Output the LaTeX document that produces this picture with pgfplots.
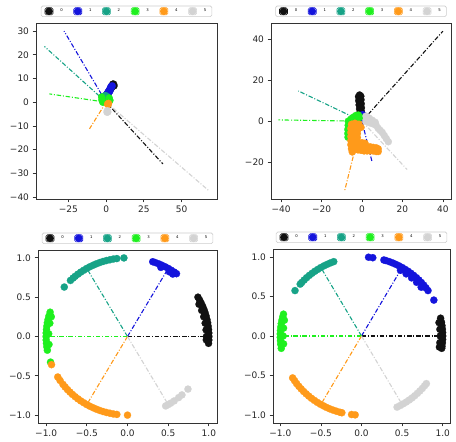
\documentclass[border=0pt]{standalone}
\usepackage{pgfplots}
\pgfplotsset{compat=1.18}
\usepackage{fontspec}
\setmainfont{DejaVu Sans}

\definecolor{c0}{HTML}{111111}
\definecolor{c1}{HTML}{1414DC}
\definecolor{c2}{HTML}{17A387}
\definecolor{c3}{HTML}{1EF01E}
\definecolor{c4}{HTML}{FF9A1A}
\definecolor{c5}{HTML}{D3D3D3}

\pgfplotsset{
  panel/.style={
    scale only axis, anchor=south west,
    axis line style={draw=black!80, line width=0.8pt},
    tick align=outside, major tick length=3.5pt,
    tick style={black!80, line width=0.8pt},
    tick pos=left,
    ticklabel style={font=\fontsize{9}{10}\selectfont, text=black!85},
    legend columns=6,
    legend style={at={(0.5,1)}, anchor=south, yshift=6pt,
      font=\fontsize{3.8}{4}\selectfont,
      draw=black!20, line width=0.6pt, rounded corners=1.5pt,
      inner xsep=3.5pt, inner ysep=1.2pt,
      /tikz/every odd column/.append style={column sep=5pt},
      /tikz/every even column/.append style={column sep=8.7pt}},
  },
  sc/.style={only marks, mark=*, mark size=3.6pt, color=#1,
    mark options={solid, draw=#1, fill=#1, line width=0.2pt},
    legend image code/.code={\path (-4pt,-3.6pt) rectangle (4pt,3.6pt);
      \fill[#1] (0pt,0pt) circle (3.5pt);}},
  ln/.style={#1, line width=1.1pt, dash pattern=on 4.5pt off 1.8pt on 1pt off 1.8pt, forget plot},
}

\begin{document}
\begin{tikzpicture}
\path[use as bounding box] (0,0) rectangle (456pt,442pt);

% top left
\begin{axis}[panel, at={(36pt,243pt)}, width=181pt, height=176pt,
  xmin=-46.5, xmax=73.5, ymin=-40.8, ymax=33.4,
  xtick={-25,0,25,50}, xticklabels={−25,0,25,50},
  ytick={-40,-30,-20,-10,0,10,20,30},
  yticklabels={−40,−30,−20,−10,0,10,20,30}]
\addplot[sc=c0] coordinates {(1,3.6)(1.6,4.2)(2.2,4.8)(2.8,5.4)(3.4,6)(4,6.6)(4.6,7.2)(5,7.6)(4.4,7.6)(5.2,6.9)};
\addlegendentry{0}
\addplot[sc=c1] coordinates {(-1.2,1.8)(-0.6,2.4)(0,3)(0.6,3.6)(1.2,4.2)(1.8,4.8)(2.4,5.4)(3,6)(3.6,6.5)(4,6.9)(0.5,2.6)(1.5,3.8)(2.5,4.7)(-0.2,2.0)(3.2,6.6)};
\addlegendentry{1}
\addplot[sc=c2] coordinates {(-1.5,2.5)(-0.5,2.8)(0.5,2.4)(-1,1.5)(0,1.5)(1,1.2)(-0.5,0.5)};
\addlegendentry{2}
\addplot[sc=c3] coordinates {(-3,2.2)(-2.8,1)(-2.2,0)(2,1.8)(2.5,0.8)(1.5,0.2)};
\addlegendentry{3}
\addplot[sc=c4] coordinates {(1,-0.7)(1.6,-0.5)(1.3,-1.0)};
\addlegendentry{4}
\addplot[sc=c5] coordinates {(0.8,-3.6)(1.1,-4.1)(0.6,-4.2)};
\addlegendentry{5}
\addplot[ln=c0] coordinates {(0,0)(37.6,-26)};
\addplot[ln=c1] coordinates {(0,0)(-27.9,30)};
\addplot[ln=c2] coordinates {(0,0)(-40.9,23.5)};
\addplot[ln=c3] coordinates {(0,0)(-37.6,3.5)};
\addplot[ln=c4] coordinates {(0,0)(-11,-11.2)};
\addplot[ln=c5] coordinates {(0,0)(67.9,-37.2)};
\end{axis}

% top right
\begin{axis}[panel, at={(271pt,243pt)}, width=180pt, height=176pt,
  xmin=-45, xmax=44, ymin=-38, ymax=48,
  xtick={-40,-20,0,20,40}, xticklabels={−40,−20,0,20,40},
  ytick={-20,0,20,40}, yticklabels={−20,0,20,40}]
\addplot[sc=c0] coordinates {(-1.2,12.8)(-0.6,12.2)(-1.7,12)(-1.2,11)(-0.5,10.5)(-1.6,10)(-1,9)(-0.4,8.5)(-1.4,8)(-0.9,7)(-0.3,6.5)(-1.2,6)(-0.6,5)(-0.2,4.2)(-1,4.2)(-0.5,3.2)};
\addlegendentry{0}
\addplot[sc=c1] coordinates {(0.3,3.2)(0.8,2.4)(0.2,1.8)};
\addlegendentry{1}
\addplot[sc=c2] coordinates {(-2.5,2.6)(-1.8,1.8)(-2.8,1.2)};
\addlegendentry{2}
\addplot[sc=c3] coordinates {(-6.8,0)(-5.5,1)(-4.2,2)(-3,2.8)(-1.8,3)(-2.5,1)(-6.8,-2)(-7,-4)(-7,-6)(-6.9,-7.8)(-1,2)};
\addlegendentry{3}
\addplot[sc=c4] coordinates {(-5.2,-1.5)(-3.5,-1)(-1.5,-1.5)(-0.5,-3)(-5.5,-3.5)(-3.5,-3.5)(-2,-4)(-5.5,-5.5)(-3.8,-5.5)(-2.3,-6)(-5.5,-7.5)(-3.8,-7.5)(-2.3,-8)(-5.5,-9.5)(-3.8,-9.5)(-2.3,-10)(-5.5,-11.5)(-3.8,-11.5)(-5.2,-13.5)(-3.5,-13.5)(-4.8,-15)
(-2,-12)(-0.5,-12.2)(1,-12)(2.5,-12.5)(4,-12.5)(5.5,-12.8)(7,-13)(8,-13.5)(-2,-14)(-0.5,-14.2)(1,-14.5)(2.5,-14.5)(4,-14.5)(5.5,-14.5)(7,-14.8)(8,-14.8)(0,-10.5)(1.5,-10.8)};
\addlegendentry{4}
\addplot[sc=c5] coordinates {(2,2.5)(3.5,1.5)(5,0.5)(6.5,-0.5)(3,-0.5)(2,0.5)(7,-2)(8,-3.5)(9,-4.5)(10,-5.5)(11,-7)(12,-8.5)(13,-10)(6,-1.5)(4.5,-1)};
\addlegendentry{5}
\addplot[ln=c0] coordinates {(0,0)(40,44)};
\addplot[ln=c1] coordinates {(0,0)(5,-20)};
\addplot[ln=c2] coordinates {(0,0)(-31.5,14.8)};
\addplot[ln=c3] coordinates {(0,0)(-41.3,0.65)};
\addplot[ln=c4] coordinates {(0,0)(-8.6,-34)};
\addplot[ln=c5] coordinates {(0,0)(22.3,-23.6)};
\end{axis}

% bottom left
\begin{axis}[panel, at={(38pt,19pt)}, width=179pt, height=173pt,
  xmin=-1.1, xmax=1.1, ymin=-1.1, ymax=1.1,
  xtick={-1,-0.5,0,0.5,1}, xticklabels={−1.0,−0.5,0.0,0.5,1.0},
  ytick={-1,-0.5,0,0.5,1}, yticklabels={−1.0,−0.5,0.0,0.5,1.0}]
\addplot[sc=c0] coordinates {(0.866,0.5)(0.887,0.462)(0.906,0.423)(0.924,0.383)(0.94,0.342)(0.954,0.301)(0.966,0.259)(0.976,0.216)(0.985,0.174)(0.991,0.131)(0.996,0.087)(0.999,0.044)(1,0)(0.999,-0.044)(0.996,-0.087)
(0.912,0.332)(0.955,0.169)(0.97,0)(0.937,0.251)(0.966,0.084)(0.879,0.41)(0.969,-0.043)};
\addlegendentry{0}
\addplot[sc=c1] coordinates {(0.31,0.951)(0.342,0.94)(0.383,0.924)(0.423,0.906)(0.462,0.887)(0.5,0.866)(0.537,0.843)(0.574,0.819)(0.602,0.799)(0.41,0.879)(0.514,0.823)(0.557,0.794)};
\addlegendentry{1}
\addplot[sc=c2] coordinates {(-0.777,0.629)(-0.701,0.713)(-0.669,0.743)(-0.643,0.766)(-0.609,0.793)(-0.574,0.819)(-0.537,0.843)(-0.5,0.866)(-0.462,0.887)(-0.423,0.906)(-0.383,0.924)(-0.342,0.94)(-0.301,0.954)(-0.259,0.966)(-0.216,0.976)(-0.174,0.985)(-0.131,0.991)(-0.044,0.999)};
\addlegendentry{2}
\addplot[sc=c3] coordinates {(-0.951,0.309)(-0.966,0.259)(-0.976,0.216)(-0.985,0.174)(-0.991,0.131)(-0.996,0.087)(-0.999,0.044)(-1,0)(-0.999,-0.044)(-0.996,-0.087)(-0.991,-0.131)(-0.985,-0.174)(-0.946,-0.326)
(-0.955,0.169)(-0.969,0.034)(-0.965,-0.101)(-0.937,0.251)};
\addlegendentry{3}
\addplot[sc=c4] coordinates {(-0.934,-0.358)(-0.857,-0.515)(-0.829,-0.559)(-0.793,-0.609)(-0.766,-0.643)(-0.737,-0.676)(-0.707,-0.707)(-0.676,-0.737)(-0.643,-0.766)(-0.609,-0.793)(-0.574,-0.819)(-0.537,-0.843)(-0.5,-0.866)(-0.462,-0.887)(-0.423,-0.906)(-0.383,-0.924)(-0.342,-0.94)(-0.301,-0.954)(-0.259,-0.966)(-0.216,-0.976)(-0.174,-0.985)(-0.131,-0.991)(0,-1)};
\addlegendentry{4}
\addplot[sc=c5] coordinates {(0.469,-0.883)(0.5,-0.866)(0.53,-0.848)(0.574,-0.819)(0.629,-0.777)(0.669,-0.743)(0.743,-0.669)};
\addlegendentry{5}
\addplot[ln=c0] coordinates {(0,0)(0.96,0)};
\addplot[ln=c1] coordinates {(0,0)(0.48,0.83)};
\addplot[ln=c2] coordinates {(0,0)(-0.48,0.83)};
\addplot[ln=c3] coordinates {(0,0)(-0.96,0)};
\addplot[ln=c4] coordinates {(0,0)(-0.48,-0.83)};
\addplot[ln=c5] coordinates {(0,0)(0.48,-0.83)};
\end{axis}

% bottom right
\begin{axis}[panel, at={(273pt,19pt)}, width=177pt, height=174pt,
  xmin=-1.09, xmax=1.09, ymin=-1.1, ymax=1.1,
  xtick={-1,-0.5,0,0.5,1}, xticklabels={−1.0,−0.5,0.0,0.5,1.0},
  ytick={-1,-0.5,0,0.5,1}, yticklabels={−1.0,−0.5,0.0,0.5,1.0}]
\addplot[sc=c0] coordinates {(0.974,0.225)(0.985,0.174)(0.991,0.131)(0.996,0.087)(0.999,0.044)(1,0)(0.999,-0.044)(0.996,-0.087)(0.991,-0.131)(0.988,-0.156)
(0.955,0.169)(0.966,0.084)(0.97,0)(0.966,-0.084)(0.96,-0.14)};
\addlegendentry{0}
\addplot[sc=c1] coordinates {(0.087,0.996)(0.139,0.99)(0.276,0.961)(0.301,0.954)(0.342,0.94)(0.383,0.924)(0.423,0.906)(0.462,0.887)(0.5,0.866)(0.537,0.843)(0.574,0.819)(0.609,0.793)(0.643,0.766)(0.676,0.737)(0.707,0.707)(0.737,0.676)(0.766,0.643)(0.793,0.609)(0.819,0.574)(0.891,0.454)
(0.48,0.831)(0.55,0.786)(0.617,0.735)(0.679,0.679)(0.735,0.617)};
\addlegendentry{1}
\addplot[sc=c2] coordinates {(-0.819,0.574)(-0.755,0.656)(-0.737,0.676)(-0.707,0.707)(-0.676,0.737)(-0.643,0.766)(-0.609,0.793)(-0.574,0.819)(-0.537,0.843)(-0.5,0.866)(-0.462,0.887)(-0.423,0.906)(-0.383,0.924)(-0.342,0.94)};
\addlegendentry{2}
\addplot[sc=c3] coordinates {(-0.961,0.276)(-0.97,0.242)(-0.98,0.199)(-0.988,0.156)(-0.994,0.113)(-0.998,0.07)(-1,0.026)(-1,-0.017)(-0.998,-0.061)(-0.995,-0.105)(-0.988,-0.156)
(-0.95,0.2)(-0.96,0.1)(-0.965,0)(-0.96,-0.1)};
\addlegendentry{3}
\addplot[sc=c4] coordinates {(-0.848,-0.53)(-0.824,-0.566)(-0.799,-0.602)(-0.772,-0.636)(-0.743,-0.669)(-0.713,-0.701)(-0.682,-0.731)(-0.649,-0.76)(-0.616,-0.788)(-0.581,-0.814)(-0.545,-0.839)(-0.508,-0.862)(-0.469,-0.883)(-0.431,-0.903)(-0.391,-0.921)(-0.35,-0.937)(-0.309,-0.951)(-0.267,-0.964)(-0.242,-0.97)(-0.122,-0.993)(-0.078,-0.997)};
\addlegendentry{4}
\addplot[sc=c5] coordinates {(0.438,-0.899)(0.477,-0.879)(0.515,-0.857)(0.552,-0.834)(0.588,-0.809)(0.623,-0.783)(0.656,-0.755)(0.688,-0.725)(0.719,-0.695)(0.749,-0.663)(0.777,-0.629)(0.799,-0.602)};
\addlegendentry{5}
\addplot[ln=c0] coordinates {(0,0)(0.96,0)};
\addplot[ln=c1] coordinates {(0,0)(0.48,0.83)};
\addplot[ln=c2] coordinates {(0,0)(-0.48,0.83)};
\addplot[ln=c3] coordinates {(0,0)(-0.96,0)};
\addplot[ln=c4] coordinates {(0,0)(-0.48,-0.83)};
\addplot[ln=c5] coordinates {(0,0)(0.48,-0.83)};
\end{axis}
\end{tikzpicture}
\end{document}
